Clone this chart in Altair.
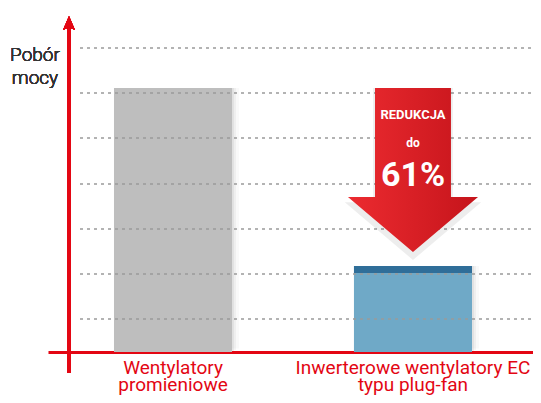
import altair as alt
import pandas as pd

# ---- data ----
categories = ["Wentylatory promieniowe", "Inwerterowe wentylatory EC typu plug-fan"]
label_lines = [["Wentylatory", "promieniowe"], ["Inwerterowe wentylatory EC", "typu plug-fan"]]
power = [264, 86]          # bar heights (arbitrary units of power draw)
cap_strip = [0, 7]         # dark top strip of the EC bar
grid_values = [33, 78, 123, 168, 214, 259, 304]
axis_title = ["Pobór", "mocy"]
arrow_text = ["REDUKCJA", "do", "61%"]

RED = "#e30613"
FONT = "Roboto, Liberation Sans, sans-serif"

# ---- tables ----
bars = pd.DataFrame({
    "cat": categories,
    "low": [0, 0],
    "high": [power[0], power[1] - cap_strip[1]],
    "col": ["#bebebe", "#6fa9c7"],
})
shadow = pd.DataFrame({"cat": categories, "low": [0, 0], "high": power})
caps = pd.DataFrame({
    "cat": [categories[1]],
    "low": [power[1] - cap_strip[1]],
    "high": [power[1]],
})
grid = pd.DataFrame({"v": grid_values})
arrow_top = power[0]
arrow_tip = power[1] + 14
arrow_h = arrow_top - arrow_tip
arrow = pd.DataFrame({"cat": [categories[1]], "yc": [(arrow_top + arrow_tip) / 2]})

label_expr = "datum.value == '%s' ? %s : %s" % (
    categories[0], str(label_lines[0]), str(label_lines[1]))

xscale = alt.Scale(domain=categories, range=[40, 530], paddingInner=0.508, paddingOuter=0.275)
yscale = alt.Scale(domain=[0, 344], nice=False, zero=True)
xaxis = alt.Axis(domainColor=RED, domainWidth=3, ticks=False, labelColor=RED,
                 labelFont=FONT, labelFontSize=19, labelLineHeight=17,
                 labelPadding=6, labelAngle=0, labelBaseline="top",
                 labelLimit=0, labelExpr=label_expr, grid=False, title=None)
X = alt.X("cat:N", scale=xscale, axis=xaxis)
Y = lambda f: alt.Y(f, scale=yscale, axis=None)

gridlines = alt.Chart(grid).mark_rule(strokeDash=[3, 4], color="#9a9a9a", strokeWidth=1.5).encode(
    y=Y("v:Q"), x=alt.value(72), x2=alt.value(525))

shadow_layers = [
    alt.Chart(shadow).mark_bar(color="#000000", opacity=op, xOffset=off, yOffset=-off / 2).encode(
        x=X, y=Y("low:Q"), y2="high:Q")
    for off, op in [(7, 0.025), (4, 0.04), (2, 0.05)]
]

bar_layer = alt.Chart(bars).mark_bar().encode(
    x=X, y=Y("low:Q"), y2="high:Q",
    color=alt.Color("col:N", scale=None))

cap_layer = alt.Chart(caps).mark_bar(color="#2f6e99").encode(
    x=X, y=Y("low:Q"), y2="high:Q")

arrow_path = "M -0.463 -1 L 0.463 -1 L 0.463 0.329 L 0.793 0.329 L 0 1 L -0.793 0.329 L -0.463 0.329 Z"
grad = alt.LinearGradient(gradient="linear",
                          stops=[alt.GradientStop(color="#ec2b30", offset=0),
                                 alt.GradientStop(color="#c5141b", offset=1)],
                          x1=0, x2=1, y1=0, y2=0)

arrow_shadow = alt.Chart(arrow).mark_point(shape=arrow_path, filled=True, color="#000000",
                                           opacity=0.07, size=(arrow_h + 8) ** 2,
                                           yOffset=4).encode(
    x=X, y=Y("yc:Q"))

arrow_layer = alt.Chart(arrow).mark_point(shape=arrow_path, filled=True, fill=grad,
                                          opacity=1, strokeWidth=0, size=arrow_h ** 2).encode(
    x=X, y=Y("yc:Q"))

def arrow_label(txt, size, dy):
    return alt.Chart(arrow).mark_text(text=txt, font=FONT, fontSize=size, fontWeight="bold",
                                      color="white", dy=dy, baseline="middle").encode(
        x=X, y=Y("yc:Q"))

t1 = arrow_label(arrow_text[0], 13, -55)
t2 = arrow_label(arrow_text[1], 12, -27)
t3 = arrow_label(arrow_text[2], 34, 6)

y_axis_line = alt.Chart(grid).mark_rule(color=RED, strokeWidth=3).encode(
    x=alt.value(61), y=alt.value(17), y2=alt.value(365))

head_path = "M -0.857 1 L 0 -1 L 0.857 1 L 0 0.6 Z"
y_axis_head = alt.Chart(grid).mark_point(shape=head_path, filled=True, color=RED,
                                         opacity=1, size=196).encode(
    x=alt.value(61), y=alt.value(15))

title = alt.Chart(grid).mark_text(text=axis_title, font=FONT, fontSize=19, lineHeight=23,
                                  fontWeight=300, color="#333333", align="center",
                                  baseline="top").encode(
    x=alt.value(27), y=alt.value(38))

chart = alt.layer(
    *shadow_layers, bar_layer, gridlines, cap_layer, arrow_shadow, arrow_layer, t1, t2, t3,
    y_axis_line, y_axis_head, title
).properties(
    width=525, height=344,
    padding={"left": 0, "right": 0, "top": 0, "bottom": 43},
    autosize="none",
).configure_view(stroke=None)

chart.save("out.html", embed_options={"renderer": "svg", "actions": False})
